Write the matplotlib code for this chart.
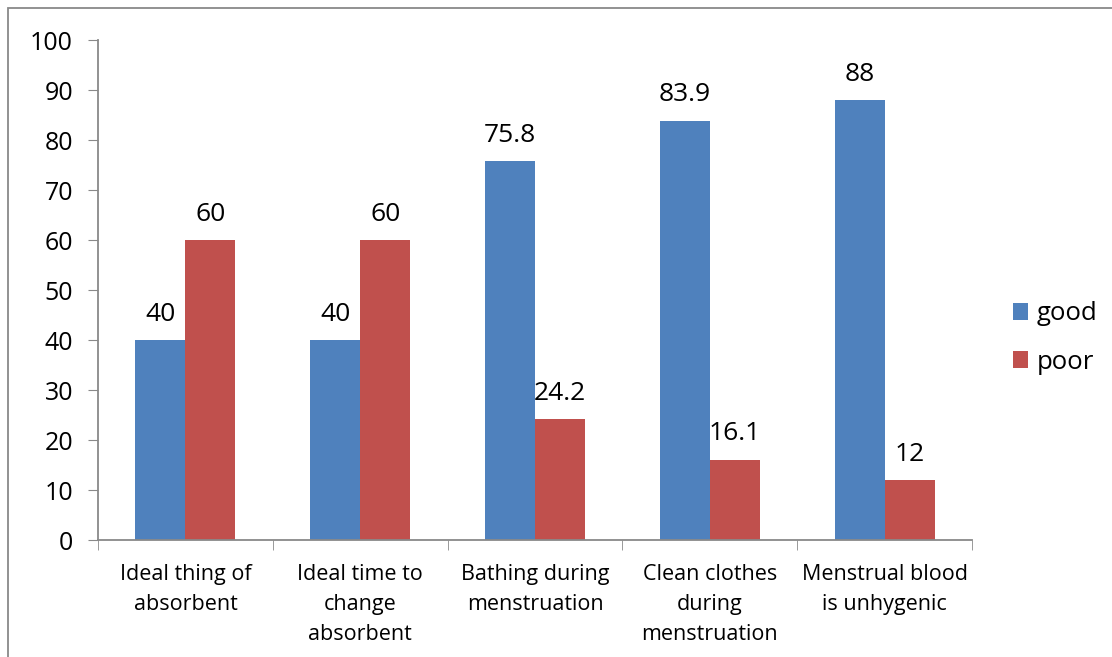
import numpy as np
import matplotlib.pyplot as plt
from matplotlib.patches import Rectangle

categories = ['Ideal thing of\nabsorbent', 'Ideal time to\nchange\nabsorbent',
              'Bathing during\nmenstruation', 'Clean clothes\nduring\nmenstruation',
              'Menstrual blood\nis unhygenic']
good = [40, 40, 75.8, 83.9, 88]
poor = [60, 60, 24.2, 16.1, 12]
good_labels = ['40', '40', '75.8', '83.9', '88']
poor_labels = ['60', '60', '24.2', '16.1', '12']

plt.rcParams['font.family'] = ['Open Sans', 'DejaVu Sans']

fig = plt.figure(figsize=(11.12, 6.57), dpi=100)
ax = fig.add_axes([98 / 1112, 1 - 540 / 657, 874 / 1112, 500 / 657])

# chart frame (top and left edges visible)
fig.patches.append(Rectangle((8 / 1112, -0.1), 1.2, 1 - 8 / 657 + 0.1,
                             transform=fig.transFigure, fill=False,
                             edgecolor='#898989', linewidth=1.3))

x = np.arange(len(categories))
w = 0.286
b1 = ax.bar(x - w / 2, good, w, color='#4F81BD', label='good')
b2 = ax.bar(x + w / 2, poor, w, color='#C0504D', label='poor')

for bars, labs in ((b1, good_labels), (b2, poor_labels)):
    for rect, lab in zip(bars, labs):
        ax.annotate(lab, (rect.get_x() + rect.get_width() / 2, rect.get_height()),
                    xytext=(0, 9.5), textcoords='offset points',
                    ha='center', va='bottom', fontsize=19)

ax.set_xlim(-0.5, len(categories) - 0.5)
ax.set_ylim(0, 100)
ax.set_yticks(range(0, 101, 10))
ax.tick_params(axis='y', labelsize=18, length=7, color='#898989', pad=11)

ax.set_xticks(x)
ax.set_xticklabels(categories, fontsize=15.5, linespacing=1.56)
ax.set_xticks(np.arange(-0.5, len(categories)), minor=True)
ax.tick_params(axis='x', which='major', length=0, pad=17)
ax.tick_params(axis='x', which='minor', length=7, color='#898989')

for s in ('top', 'right'):
    ax.spines[s].set_visible(False)
for s in ('left', 'bottom'):
    ax.spines[s].set_color('#898989')
    ax.spines[s].set_linewidth(1.3)

ax.legend(loc='center left', bbox_to_anchor=(1.02, 0.404), frameon=False,
          fontsize=18.5, handlelength=0.6, handleheight=0.6, labelspacing=0.9,
          handletextpad=0.35)

fig.savefig('out.png', dpi=100)
